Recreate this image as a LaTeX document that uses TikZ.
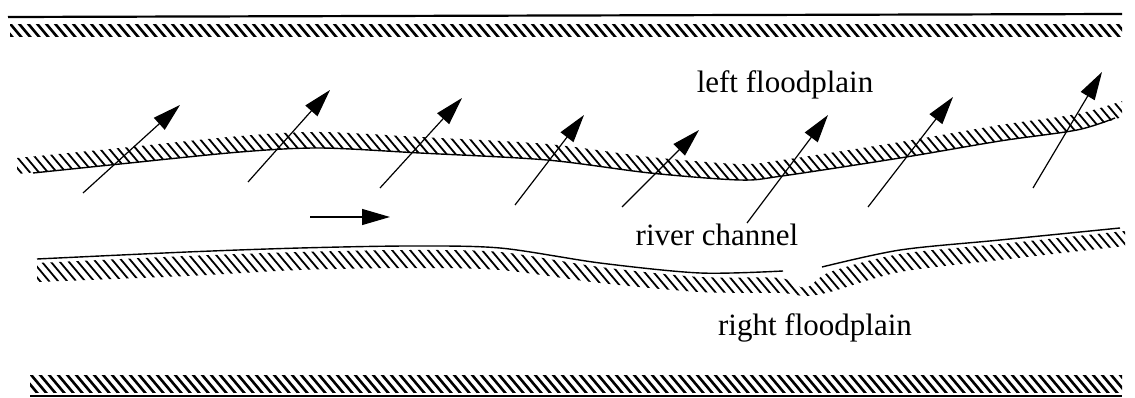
\documentclass[tikz,border=0pt]{standalone}
\usepackage{fontspec}
\setmainfont{Liberation Serif}
\usetikzlibrary{arrows.meta}
\newcommand{\lbl}[1]{\fontsize{31}{36}\selectfont #1}

\begin{document}
\begin{tikzpicture}[x=1pt,y=-1pt,
  wall/.style={line width=2.2pt},
  wallstroke/.style={line width=2.6pt},
  bank/.style={line width=1.4pt},
  bankstroke/.style={line width=1.8pt},
  vel/.style={line width=1.2pt,-{Triangle[length=28pt,width=16pt]}}]
\useasboundingbox (0,0) rectangle (1135,398);
% outer walls
\draw[wall] (8,17) -- (1122,14);
\begin{scope}
\clip (10,25) rectangle (1122,37);
\foreach \x in {-20,-11,...,1130}
  \draw[wallstroke] (\x,20) -- ++(18,21.5);
\end{scope}
\begin{scope}
\clip (30,375) rectangle (1122,392);
\foreach \x in {0,9,...,1130}
  \draw[wallstroke] (\x,370) -- ++(22,26.2);
\end{scope}
\draw[wall] (30,396) -- (1122,396);
% left bank of the channel
\begin{scope}
\clip plot[smooth] coordinates {(17,174) (120,164) (240,152) (320,148) (420,153) (547,160) (650,173) (740,180) (782,176) (900,158) (1000,141) (1077,130) (1122,117)}
  -- plot[smooth] coordinates {(1122,101) (1077,114) (1000,125) (900,142) (782,160) (740,164) (650,157) (547,144) (420,137) (320,132) (240,136) (120,148) (17,158)} -- cycle;
\foreach \x in {-80,-71,...,1130}
  \draw[bankstroke] (\x,95) -- ++(76,90.6);
\end{scope}
\draw[bank] plot[smooth] coordinates {(33,173) (120,164) (240,152) (320,148) (420,153) (547,160) (650,173) (740,180) (782,176) (900,158) (1000,141) (1077,130) (1115,118)};
% right bank of the channel
\begin{scope}
\clip plot[smooth] coordinates {(37,263) (187,256) (300,252) (410,250) (500,252) (600,267) (700,277) (780,278) (805,288) (830,272) (900,254) (1000,244) (1125,231)}
  -- plot[smooth] coordinates {(1125,246) (1000,260) (900,272) (830,292) (805,296) (780,293) (700,292) (600,283) (500,270) (410,268) (300,270) (187,276) (37,282)} -- cycle;
\foreach \x in {-70,-61,...,1130}
  \draw[bankstroke] (\x,225) -- ++(63,75.1);
\end{scope}
\draw[bank] plot[smooth] coordinates {(37,259) (187,252) (300,248) (410,246) (500,248) (600,263) (700,273) (783,271)};
\draw[bank] plot[smooth] coordinates {(822,267) (900,250) (1000,240) (1120,228)};
% velocity vectors
\coordinate (t1) at (83,193);   \coordinate (h1) at (180,105);
\coordinate (t2) at (248,182);  \coordinate (h2) at (330,90);
\coordinate (t3) at (380,188);  \coordinate (h3) at (462,98);
\coordinate (t4) at (515,205);  \coordinate (h4) at (584,115);
\coordinate (t5) at (622,207);  \coordinate (h5) at (699,130);
\coordinate (t6) at (747,223);  \coordinate (h6) at (828,115);
\coordinate (t7) at (868,207);  \coordinate (h7) at (953,97);
\coordinate (t8) at (1033,188); \coordinate (h8) at (1102,72);
\foreach \i in {1,...,8}
  \draw[vel] (t\i) -- (h\i);
% main flow direction
\coordinate (f1) at (310,217);
\coordinate (f2) at (390,217);
\draw[vel] (f1) -- (f2);
% labels
\node (lfp) [anchor=base] at (785,93) {\lbl{left floodplain}};
\node (rch) [anchor=base] at (717,245) {\lbl{river channel}};
\node (rfp) [anchor=base] at (815,335) {\lbl{right floodplain}};
\end{tikzpicture}
\end{document}
